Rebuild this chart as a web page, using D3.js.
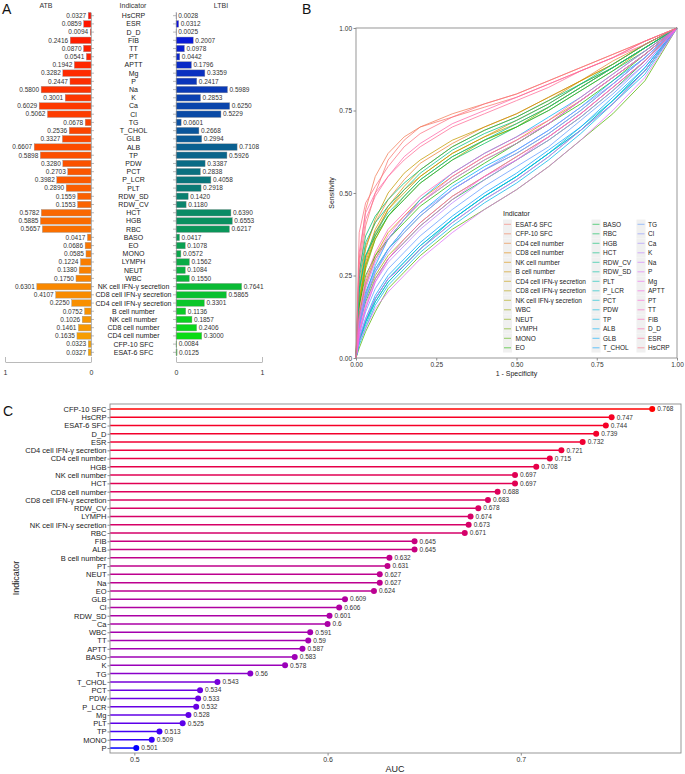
<!DOCTYPE html>
<html>
<head>
<meta charset="utf-8">
<script src="https://cdn.jsdelivr.net/npm/d3@7"></script>
<style>
  body { margin: 0; background: #fff; }
  svg { font-family: "Liberation Sans", Arial, sans-serif; display: block; }
  .tick text { fill: #333; }
</style>
</head>
<body>
<div id="chart"></div>
<script>
// Panel A order, top to bottom
const indicatorsA = ['HsCRP', 'ESR', 'D_D', 'FIB', 'TT', 'PT', 'APTT', 'Mg', 'P', 'Na', 'K', 'Ca', 'Cl', 'TG',
  'T_CHOL', 'GLB', 'ALB', 'TP', 'PDW', 'PCT', 'P_LCR', 'PLT', 'RDW_SD', 'RDW_CV', 'HCT', 'HGB', 'RBC', 'BASO',
  'EO', 'MONO', 'LYMPH', 'NEUT', 'WBC', 'NK cell IFN-γ secretion', 'CD8 cell IFN-γ secretion',
  'CD4 cell IFN-γ secretion', 'B cell number', 'NK cell number', 'CD8 cell number', 'CD4 cell number',
  'CFP-10 SFC', 'ESAT-6 SFC'];

const atbValues = [0.0327, 0.0859, 0.0094, 0.2416, 0.0870, 0.0541, 0.1942, 0.3282, 0.2447, 0.5800, 0.3001,
  0.6029, 0.5062, 0.0678, 0.2536, 0.3327, 0.6607, 0.5898, 0.3280, 0.2703, 0.3982, 0.2890, 0.1559, 0.1553,
  0.5782, 0.5885, 0.5657, 0.0417, 0.0686, 0.0585, 0.1224, 0.1380, 0.1750, 0.6301, 0.4107, 0.2250, 0.0752,
  0.1026, 0.1461, 0.1635, 0.0323, 0.0327];

const ltbiValues = [0.0028, 0.0312, 0.0025, 0.2007, 0.0978, 0.0442, 0.1796, 0.3359, 0.2417, 0.5989, 0.2853,
  0.6250, 0.5229, 0.0601, 0.2668, 0.2994, 0.7108, 0.5926, 0.3387, 0.2838, 0.4058, 0.2918, 0.1420, 0.1180,
  0.6390, 0.6553, 0.6217, 0.0417, 0.1078, 0.0572, 0.1562, 0.1084, 0.1550, 0.7641, 0.5865, 0.3301, 0.1136,
  0.1857, 0.2406, 0.3000, 0.0084, 0.0125];

// Panel B: legend / factor order is panel A reversed
const rocIndicators = indicatorsA.slice().reverse();
const rocFpr = [0, 0.01, 0.03, 0.06, 0.1, 0.15, 0.2, 0.3, 0.4, 0.5, 0.6, 0.7, 0.8, 0.9, 1];
// sensitivity at each rocFpr, same order as rocIndicators (approximate)
const rocSensitivity = [
  [0, .25, .40, .50, .60, .66, .70, .73, .76, .79, .83, .87, .91, .96, 1],  // ESAT-6 SFC
  [0, .30, .45, .55, .62, .67, .70, .74, .77, .80, .84, .88, .92, .96, 1],  // CFP-10 SFC
  [0, .22, .34, .41, .48, .54, .59, .65, .70, .74, .79, .84, .90, .95, 1],  // CD4 cell number
  [0, .17, .29, .38, .45, .51, .55, .62, .67, .72, .77, .83, .88, .94, 1],  // CD8 cell number
  [0, .18, .30, .39, .46, .52, .57, .64, .69, .73, .78, .84, .89, .95, 1],  // NK cell number
  [0, .13, .23, .31, .38, .43, .48, .55, .61, .66, .72, .78, .85, .92, 1],  // B cell number
  [0, .20, .33, .42, .50, .56, .60, .66, .70, .74, .79, .84, .89, .95, 1],  // CD4 IFN
  [0, .16, .28, .37, .45, .50, .55, .62, .67, .71, .76, .82, .88, .94, 1],  // CD8 IFN
  [0, .17, .28, .36, .43, .48, .53, .60, .66, .70, .75, .81, .87, .94, 1],  // NK IFN
  [0, .11, .18, .25, .31, .36, .41, .49, .55, .61, .67, .74, .82, .90, 1],  // WBC
  [0, .13, .22, .30, .36, .42, .47, .54, .60, .65, .71, .78, .85, .92, 1],  // NEUT
  [0, .15, .27, .36, .43, .49, .54, .61, .66, .70, .76, .82, .88, .94, 1],  // LYMPH
  [0, .03, .08, .14, .21, .26, .31, .39, .45, .51, .58, .66, .74, .84, 1],  // MONO
  [0, .16, .25, .31, .36, .41, .46, .53, .59, .65, .71, .77, .84, .92, 1],  // EO
  [0, .10, .17, .24, .30, .35, .40, .48, .54, .60, .66, .73, .81, .90, 1],  // BASO
  [0, .21, .31, .37, .43, .48, .53, .60, .65, .70, .75, .81, .87, .93, 1],  // RBC
  [0, .26, .37, .43, .48, .53, .57, .64, .69, .73, .78, .83, .89, .95, 1],  // HGB
  [0, .24, .35, .41, .46, .51, .56, .63, .68, .72, .77, .83, .88, .94, 1],  // HCT
  [0, .20, .31, .38, .44, .49, .54, .61, .66, .71, .76, .82, .88, .94, 1],  // RDW_CV
  [0, .12, .20, .27, .33, .38, .43, .51, .57, .62, .68, .75, .83, .91, 1],  // RDW_SD
  [0, .05, .10, .17, .23, .28, .33, .41, .48, .54, .61, .69, .77, .87, 1],  // PLT
  [0, .05, .11, .17, .23, .28, .33, .42, .49, .55, .62, .69, .78, .87, 1],  // P_LCR
  [0, .05, .11, .18, .24, .29, .34, .42, .49, .55, .62, .70, .78, .88, 1],  // PCT
  [0, .06, .11, .18, .24, .29, .34, .42, .49, .55, .62, .69, .78, .87, 1],  // PDW
  [0, .04, .09, .16, .22, .27, .32, .40, .47, .53, .60, .68, .77, .86, 1],  // TP
  [0, .10, .19, .28, .36, .42, .48, .56, .62, .67, .73, .79, .86, .93, 1],  // ALB
  [0, .09, .18, .26, .33, .39, .44, .52, .58, .63, .69, .76, .84, .91, 1],  // GLB
  [0, .06, .12, .19, .25, .30, .35, .43, .50, .56, .63, .70, .79, .88, 1],  // T_CHOL
  [0, .07, .14, .21, .27, .32, .37, .45, .52, .58, .64, .72, .80, .89, 1],  // TG
  [0, .10, .19, .27, .33, .39, .44, .51, .57, .63, .69, .76, .83, .91, 1],  // Cl
  [0, .09, .18, .26, .32, .38, .43, .51, .57, .62, .68, .75, .83, .91, 1],  // Ca
  [0, .07, .15, .23, .29, .34, .39, .47, .54, .60, .66, .73, .81, .89, 1],  // K
  [0, .11, .21, .29, .36, .42, .47, .54, .60, .65, .71, .78, .85, .92, 1],  // Na
  [0, .05, .09, .15, .20, .25, .30, .38, .45, .51, .58, .66, .75, .85, 1],  // P
  [0, .06, .12, .18, .24, .28, .33, .41, .48, .54, .61, .69, .77, .87, 1],  // Mg
  [0, .08, .15, .23, .30, .35, .40, .48, .55, .60, .67, .74, .82, .90, 1],  // APTT
  [0, .12, .22, .30, .37, .43, .47, .55, .61, .66, .71, .78, .85, .92, 1],  // PT
  [0, .08, .16, .24, .30, .36, .41, .49, .55, .61, .67, .74, .82, .90, 1],  // TT
  [0, .14, .24, .32, .39, .44, .49, .56, .62, .67, .72, .79, .86, .93, 1],  // FIB
  [0, .32, .44, .50, .55, .61, .65, .71, .75, .79, .83, .87, .91, .96, 1],  // D_D
  [0, .28, .42, .49, .55, .60, .64, .70, .74, .78, .82, .87, .91, .95, 1],  // ESR
  [0, .38, .47, .52, .58, .64, .68, .73, .77, .80, .84, .88, .92, .96, 1]   // HsCRP
];
const rocTicks = [0, 0.25, 0.5, 0.75, 1];

// Panel C, sorted by AUC
const aucIndicators = ['CFP-10 SFC', 'HsCRP', 'ESAT-6 SFC', 'D_D', 'ESR', 'CD4 cell IFN-γ secretion',
  'CD4 cell number', 'HGB', 'NK cell number', 'HCT', 'CD8 cell number', 'CD8 cell IFN-γ secretion', 'RDW_CV',
  'LYMPH', 'NK cell IFN-γ secretion', 'RBC', 'FIB', 'ALB', 'B cell number', 'PT', 'NEUT', 'Na', 'EO', 'GLB',
  'Cl', 'RDW_SD', 'Ca', 'WBC', 'TT', 'APTT', 'BASO', 'K', 'TG', 'T_CHOL', 'PCT', 'PDW', 'P_LCR', 'Mg', 'PLT',
  'TP', 'MONO', 'P'];
const aucValues = [0.768, 0.747, 0.744, 0.739, 0.732, 0.721, 0.715, 0.708, 0.697, 0.697, 0.688, 0.683, 0.678,
  0.674, 0.673, 0.671, 0.645, 0.645, 0.632, 0.631, 0.627, 0.627, 0.624, 0.609, 0.606, 0.601, 0.6, 0.591,
  0.59, 0.587, 0.583, 0.578, 0.56, 0.543, 0.534, 0.533, 0.532, 0.528, 0.525, 0.513, 0.509, 0.501];
const aucTicks = [0.5, 0.6, 0.7];

const svg = d3.select('#chart').append('svg')
  .attr('width', 685)
  .attr('height', 774);

const grey = '#8c8c8c';

// panel letters
[['A', 2, 14], ['B', 302, 14], ['C', 3, 416]].forEach(([t, x, y]) => {
  svg.append('text').attr('x', x).attr('y', y).style('font-size', '14px').style('fill', '#111').text(t);
});

// ---------------- Panel A ----------------
(function() {
  const g = svg.append('g');
  const y = d3.scaleBand().domain(indicatorsA).range([12.4, 355.6]).paddingInner(0.2);
  const xAtb = d3.scaleLinear().domain([0, 1]).range([91, 5]);
  const xLtbi = d3.scaleLinear().domain([0, 1]).range([176, 262]);
  const atbColor = d3.scaleLinear().domain([0, indicatorsA.length - 1]).range(['#ff1200', '#f7a400']).interpolate(d3.interpolateRgb);
  const ltbiColor = d3.scaleLinear().domain([0, indicatorsA.length - 1]).range(['#0a0ae6', '#0ae60a']).interpolate(d3.interpolateRgb);

  // headers
  [['ATB', 46], ['Indicator', 133], ['LTBI', 221]].forEach(([t, x]) => {
    g.append('text').attr('x', x).attr('y', 8).attr('text-anchor', 'middle')
      .style('font-size', '7px').style('fill', '#333').text(t);
  });

  const rows = indicatorsA.map((name, i) => ({ name, i, atb: atbValues[i], ltbi: ltbiValues[i] }));

  g.selectAll('.atb-bar').data(rows).enter().append('rect')
    .attr('x', d => xAtb(d.atb))
    .attr('y', d => y(d.name))
    .attr('width', d => xAtb(0) - xAtb(d.atb))
    .attr('height', y.bandwidth())
    .attr('fill', d => atbColor(d.i))
    .attr('stroke', '#9a9a9a').attr('stroke-width', 0.4);

  g.selectAll('.ltbi-bar').data(rows).enter().append('rect')
    .attr('x', xLtbi(0))
    .attr('y', d => y(d.name))
    .attr('width', d => xLtbi(d.ltbi) - xLtbi(0))
    .attr('height', y.bandwidth())
    .attr('fill', d => ltbiColor(d.i))
    .attr('stroke', '#9a9a9a').attr('stroke-width', 0.4);

  g.selectAll('.atb-val').data(rows).enter().append('text')
    .attr('x', d => xAtb(d.atb) - 2)
    .attr('y', d => y(d.name) + y.bandwidth() / 2)
    .attr('dy', '0.35em').attr('text-anchor', 'end')
    .style('font-size', '6.5px').style('fill', '#333')
    .text(d => d.atb.toFixed(4));

  g.selectAll('.ltbi-val').data(rows).enter().append('text')
    .attr('x', d => xLtbi(d.ltbi) + 2)
    .attr('y', d => y(d.name) + y.bandwidth() / 2)
    .attr('dy', '0.35em')
    .style('font-size', '6.5px').style('fill', '#333')
    .text(d => d.ltbi.toFixed(4));

  g.selectAll('.ind-label').data(rows).enter().append('text')
    .attr('x', 133.5)
    .attr('y', d => y(d.name) + y.bandwidth() / 2)
    .attr('dy', '0.35em').attr('text-anchor', 'middle')
    .style('font-size', '7px').style('fill', '#222')
    .text(d => d.name);

  // vertical axes with row ticks
  const axL = g.append('g').attr('transform', `translate(${xAtb(0)},0)`)
    .call(d3.axisRight(y).tickSize(3).tickSizeOuter(0).tickFormat(''));
  const axR = g.append('g').attr('transform', `translate(${xLtbi(0)},0)`)
    .call(d3.axisLeft(y).tickSize(3).tickSizeOuter(0).tickFormat(''));
  [axL, axR].forEach(a => a.selectAll('path, line').attr('stroke', grey).attr('stroke-width', 0.6));

  // bottom axes
  const b1 = g.append('g').attr('transform', 'translate(0,362)')
    .call(d3.axisBottom(xAtb).tickValues([0, 1]).tickFormat(d3.format('d')).tickSize(-5).tickSizeOuter(0).tickPadding(8));
  const b2 = g.append('g').attr('transform', 'translate(0,362)')
    .call(d3.axisBottom(xLtbi).tickValues([0, 1]).tickFormat(d3.format('d')).tickSize(-5).tickSizeOuter(0).tickPadding(8));
  [b1, b2].forEach(a => {
    a.selectAll('path, line').attr('stroke', grey).attr('stroke-width', 0.6);
    a.selectAll('text').style('font-size', '7px');
  });
})();

// ---------------- Panel B ----------------
// ggplot default hue palette (polar LUV)
function hclLuv(h, c, l) {
  const hr = h * Math.PI / 180;
  const U = c * Math.cos(hr), V = c * Math.sin(hr);
  const Xn = 95.047, Yn = 100, Zn = 108.883;
  const un = 4 * Xn / (Xn + 15 * Yn + 3 * Zn), vn = 9 * Yn / (Xn + 15 * Yn + 3 * Zn);
  const Y = l > 8 ? Yn * Math.pow((l + 16) / 116, 3) : Yn * l / 903.3;
  const u = U / (13 * l) + un, v = V / (13 * l) + vn;
  const X = 9 * Y * u / (4 * v);
  const Z = -X / 3 - 5 * Y + 3 * Y / v;
  const x = X / 100, yy = Y / 100, z = Z / 100;
  const lin = [3.2404542 * x - 1.5371385 * yy - 0.4985314 * z,
    -0.9692660 * x + 1.8760108 * yy + 0.0415560 * z,
    0.0556434 * x - 0.2040259 * yy + 1.0572252 * z];
  const gam = lin.map(t => {
    t = Math.max(0, Math.min(1, t));
    return Math.round(255 * (t <= 0.0031308 ? 12.92 * t : 1.055 * Math.pow(t, 1 / 2.4) - 0.055));
  });
  return `rgb(${gam[0]},${gam[1]},${gam[2]})`;
}

(function() {
  const g = svg.append('g');
  const x = d3.scaleLinear().domain([0, 1]).range([356, 677]);
  const y = d3.scaleLinear().domain([0, 1]).range([358, 28]);
  const n = rocIndicators.length;
  const colors = rocIndicators.map((d, i) => hclLuv(15 + 360 * i / n, 100, 65));

  const line = d3.line().x(d => x(d[0])).y(d => y(d[1]));

  rocIndicators.forEach((name, i) => {
    const pts = rocFpr.map((f, j) => [f, rocSensitivity[i][j]]);
    g.append('path').datum(pts)
      .attr('d', line)
      .attr('fill', 'none')
      .attr('stroke', colors[i])
      .attr('stroke-width', 0.75);
  });

  // legend
  const lg = g.append('g');
  lg.append('rect').attr('x', 499).attr('y', 206).attr('width', 176).attr('height', 148).attr('fill', '#fff');
  lg.append('text').attr('x', 503).attr('y', 216).style('font-size', '7px').style('fill', '#222').text('Indicator');
  const colX = [[503, 515.5], [591.5, 603], [636.5, 648]];
  rocIndicators.forEach((name, i) => {
    const col = Math.floor(i / 14), row = i % 14;
    const cy = 224.3 + row * 9.5;
    lg.append('rect').attr('x', colX[col][0]).attr('y', cy - 4.75).attr('width', 9).attr('height', 9.5)
      .attr('fill', '#f0f0f0');
    lg.append('line').attr('x1', colX[col][0] + 1).attr('x2', colX[col][0] + 8)
      .attr('y1', cy).attr('y2', cy).attr('stroke', colors[i]).attr('stroke-width', 0.8).attr('opacity', 0.75);
    lg.append('text').attr('x', colX[col][1]).attr('y', cy).attr('dy', '0.35em')
      .style('font-size', '6.5px').style('fill', '#222').text(name);
  });

  // frame and axes
  g.append('rect').attr('x', 356).attr('y', 28).attr('width', 321).attr('height', 330)
    .attr('fill', 'none').attr('stroke', grey).attr('stroke-width', 0.9);
  const ax = g.append('g').attr('transform', 'translate(0,358)')
    .call(d3.axisBottom(x).tickValues(rocTicks).tickFormat(d3.format('.2f')).tickSize(2.5).tickSizeOuter(0).tickPadding(1.5));
  const ay = g.append('g').attr('transform', 'translate(356,0)')
    .call(d3.axisLeft(y).tickValues(rocTicks).tickFormat(d3.format('.2f')).tickSize(2.5).tickSizeOuter(0).tickPadding(1.5));
  [ax, ay].forEach(a => {
    a.select('.domain').remove();
    a.selectAll('line').attr('stroke', grey);
    a.selectAll('text').style('font-size', '6.5px');
  });
  g.append('text').attr('x', 516.5).attr('y', 376).attr('text-anchor', 'middle')
    .style('font-size', '7px').style('fill', '#222').text('1 - Specificity');
  g.append('text').attr('transform', 'translate(334,193) rotate(-90)').attr('text-anchor', 'middle')
    .style('font-size', '7px').style('fill', '#222').text('Sensitivity');
})();

// ---------------- Panel C ----------------
(function() {
  const g = svg.append('g');
  const x = d3.scaleLinear().domain([0.4874, 0.7829]).range([110, 681]);
  const y = d3.scalePoint().domain(aucIndicators).range([404, 753]).padding(0.6);
  const color = d3.scaleLinear().domain([d3.min(aucValues), d3.max(aucValues)])
    .range(['#0000ff', '#ff0000']).interpolate(d3.interpolateLab);
  const rows = aucIndicators.map((name, i) => ({ name, auc: aucValues[i] }));

  g.selectAll('.seg').data(rows).enter().append('line')
    .attr('x1', x.range()[0]).attr('x2', d => x(d.auc))
    .attr('y1', d => y(d.name)).attr('y2', d => y(d.name))
    .attr('stroke', d => color(d.auc)).attr('stroke-width', 1.5);

  g.selectAll('.dot').data(rows).enter().append('circle')
    .attr('cx', d => x(d.auc)).attr('cy', d => y(d.name)).attr('r', 3)
    .attr('fill', d => color(d.auc));

  g.selectAll('.val').data(rows).enter().append('text')
    .attr('x', d => x(d.auc) + 5).attr('y', d => y(d.name)).attr('dy', '0.35em')
    .style('font-size', '6.5px').style('fill', '#333')
    .text(d => String(d.auc));

  g.append('rect').attr('x', 110).attr('y', 404).attr('width', 571).attr('height', 349)
    .attr('fill', 'none').attr('stroke', grey).attr('stroke-width', 0.9);

  const ay = g.append('g').attr('transform', 'translate(110,0)')
    .call(d3.axisLeft(y).tickSize(2.5).tickPadding(1));
  const ax = g.append('g').attr('transform', 'translate(0,753)')
    .call(d3.axisBottom(x).tickValues(aucTicks).tickFormat(d3.format('.1f')).tickSize(2.5).tickPadding(2));
  [ax, ay].forEach(a => {
    a.select('.domain').remove();
    a.selectAll('line').attr('stroke', grey);
  });
  ay.selectAll('text').style('font-size', '7.5px').style('fill', '#222');
  ax.selectAll('text').style('font-size', '7px');

  g.append('text').attr('x', 395).attr('y', 772).attr('text-anchor', 'middle')
    .style('font-size', '9px').style('fill', '#222').text('AUC');
  g.append('text').attr('transform', 'translate(19,578) rotate(-90)').attr('text-anchor', 'middle')
    .style('font-size', '9px').style('fill', '#222').text('Indicator');
})();
</script>
</body>
</html>
